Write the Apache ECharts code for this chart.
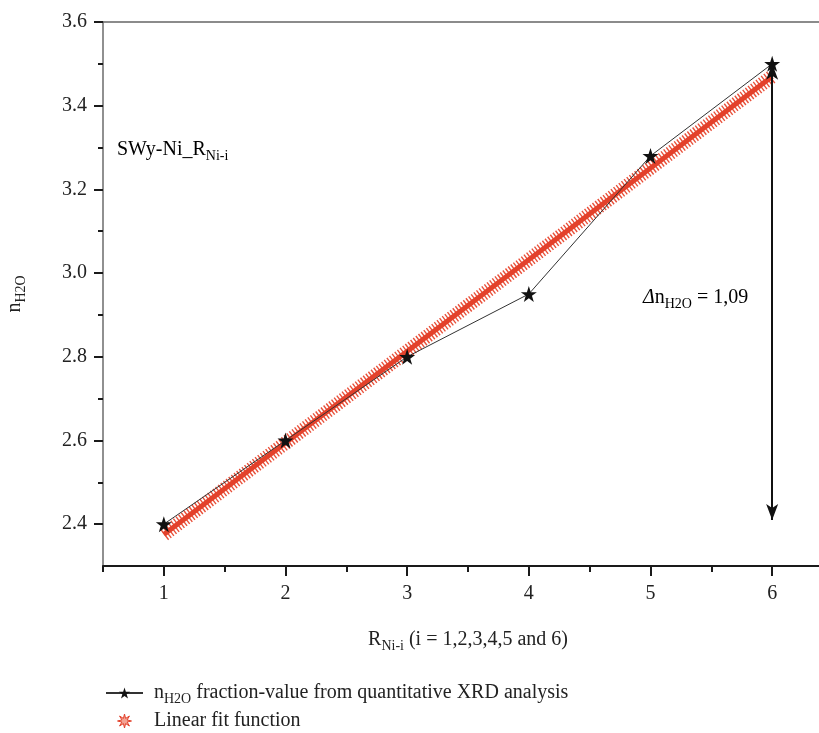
<!DOCTYPE html>
<html>
<head>
<meta charset="utf-8">
<script src="https://cdn.jsdelivr.net/npm/echarts@6/dist/echarts.min.js"></script>
<style>html,body{margin:0;padding:0;background:#fff}#c{width:819px;height:733px}</style>
</head>
<body>
<div id="c"></div>
<script>
// ---- data ----
const rValues = [1, 2, 3, 4, 5, 6];
const nH2O = [2.40, 2.60, 2.80, 2.95, 3.28, 3.50];
const fitX = [1, 6];
const fitY = [2.375, 3.47];
const arrowX = 6;
const arrowFrom = 2.41;
const arrowTo = 3.50;
const xMajorTicks = [1, 2, 3, 4, 5, 6];
const xMinorTicks = [0.5, 1.5, 2.5, 3.5, 4.5, 5.5];
const yMajorTicks = [2.4, 2.6, 2.8, 3.0, 3.2, 3.4, 3.6];
const yMinorTicks = [2.5, 2.7, 2.9, 3.1, 3.3, 3.5];

const FONT = 'Liberation Serif';
const RED = '#e3412b';
const STAR = 'path://M50,2 L61.8,38 L99,38 L69,60 L80.5,96 L50,74 L19.5,96 L31,60 L1,38 L38.2,38 Z';
const BURST = 'path://M10,0 L11.53,6.30 L17.07,2.93 L13.70,8.47 L20,10 L13.70,11.53 L17.07,17.07 L11.53,13.70 L10,20 L8.47,13.70 L2.93,17.07 L6.30,11.53 L0,10 L6.30,8.47 L2.93,2.93 L8.47,6.30 Z';

const richText = {
  m: {fontFamily: FONT, fontSize: 20, color: '#222', lineHeight: 24},
  s: {fontFamily: FONT, fontSize: 14, color: '#222', lineHeight: 14, padding: [12, 0, 0, 0]},
  i: {fontFamily: FONT, fontSize: 20, color: '#222', lineHeight: 24, fontStyle: 'italic'},
  p: {fontFamily: FONT, fontSize: 20, color: '#222', lineHeight: 24, padding: [0, 0, 0, 6]}
};

const chart = echarts.init(document.getElementById('c'), null, {renderer: 'canvas'});
const DATA_NAME = 'data';
const FIT_NAME = 'fit';

chart.setOption({
  animation: false,
  backgroundColor: '#fff',
  grid: {left: 103, top: 22, right: -14, bottom: 167, containLabel: false, outerBoundsMode: 'none'},
  xAxis: [
    {
      type: 'value', min: 0.5, max: 6.5, position: 'bottom',
      name: '{m|R}{s|Ni-i}{m| (i = 1,2,3,4,5 and 6)}',
      nameLocation: 'middle', nameGap: 62,
      nameTextStyle: {rich: richText},
      axisLine: {show: true, onZero: false, lineStyle: {color: '#1a1a1a', width: 2}},
      axisTick: {show: true, customValues: xMajorTicks, length: 10, lineStyle: {color: '#1a1a1a', width: 2}},
      axisLabel: {show: true, customValues: xMajorTicks, margin: 18, fontFamily: FONT, fontSize: 20, color: '#222',
        formatter: v => String(v)},
      splitLine: {show: false}
    },
    {
      type: 'value', min: 0.5, max: 6.5, position: 'bottom',
      axisLine: {show: false},
      axisTick: {show: true, customValues: xMinorTicks, length: 6, lineStyle: {color: '#1a1a1a', width: 2}},
      axisLabel: {show: false},
      splitLine: {show: false}
    },
    {
      type: 'value', min: 0.5, max: 6.5, position: 'top',
      axisLine: {show: true, lineStyle: {color: '#666', width: 1.5}},
      axisTick: {show: false}, axisLabel: {show: false}, splitLine: {show: false}
    }
  ],
  yAxis: [
    {
      type: 'value', min: 2.3, max: 3.6, position: 'left',
      name: '{m|n}{s|H2O}',
      nameLocation: 'middle', nameGap: 76, nameRotate: 90,
      nameTextStyle: {rich: richText},
      axisLine: {show: true, onZero: false, lineStyle: {color: '#6b6b6b', width: 1.5}},
      axisTick: {show: true, customValues: yMajorTicks, length: 9, lineStyle: {color: '#1a1a1a', width: 2}},
      axisLabel: {show: true, customValues: yMajorTicks, margin: 16, fontFamily: FONT, fontSize: 20, color: '#222',
        formatter: v => Number(v).toFixed(1)},
      splitLine: {show: false}
    },
    {
      type: 'value', min: 2.3, max: 3.6, position: 'left', offset: 0,
      axisLine: {show: false},
      axisTick: {show: true, customValues: yMinorTicks, length: 5, lineStyle: {color: '#1a1a1a', width: 2}},
      axisLabel: {show: false}, splitLine: {show: false}
    }
  ],
  legend: {
    orient: 'vertical', left: 100, top: 675, bottom: 0, itemGap: 5,
    itemWidth: 37, itemHeight: 14,
    textStyle: {fontFamily: FONT, fontSize: 20, color: '#222', rich: richText},
    formatter: name => name === DATA_NAME
      ? '{p|n}{s|H2O}{m| fraction-value from quantitative XRD analysis}'
      : '{p|Linear fit function}',
    data: [
      {name: DATA_NAME},
      {name: FIT_NAME, icon: BURST, itemStyle: {color: '#f3a394', borderColor: RED, borderWidth: 1}}
    ],
    selectedMode: false
  },
  graphic: [
    {type: 'text', left: 117, top: 137, style: {text: '{m|SWy-Ni_R}{s|Ni-i}', rich: richText}},
    {type: 'text', left: 643, top: 285, style: {text: '{i|Δ}{m|n}{s|H2O}{m| = 1,09}', rich: richText}}
  ],
  series: [
    {
      name: FIT_NAME, type: 'line', xAxisIndex: 0, yAxisIndex: 0,
      data: fitX.map((x, i) => [x, fitY[i]]),
      showSymbol: false, symbol: 'none', z: 2,
      lineStyle: {color: '#e9503a', width: 14, type: [1.4, 1.9], cap: 'butt'},
      itemStyle: {color: RED}
    },
    {
      name: FIT_NAME, type: 'line', xAxisIndex: 0, yAxisIndex: 0,
      data: fitX.map((x, i) => [x, fitY[i]]),
      showSymbol: false, symbol: 'none', z: 3,
      lineStyle: {color: RED, width: 5},
      itemStyle: {color: RED}
    },
    {
      name: DATA_NAME, type: 'line', xAxisIndex: 0, yAxisIndex: 0,
      data: rValues.map((x, i) => [x, nH2O[i]]),
      symbol: STAR, symbolSize: 16, z: 5,
      lineStyle: {color: '#333', width: 1},
      itemStyle: {color: '#111'},
      markLine: {
        silent: true, symbol: ['arrow', 'arrow'], symbolSize: [9, 16],
        label: {show: false},
        lineStyle: {color: '#111', width: 2, type: 'solid'},
        data: [[{coord: [arrowX, arrowFrom]}, {coord: [arrowX, arrowTo]}]]
      }
    }
  ]
});
</script>
</body>
</html>
